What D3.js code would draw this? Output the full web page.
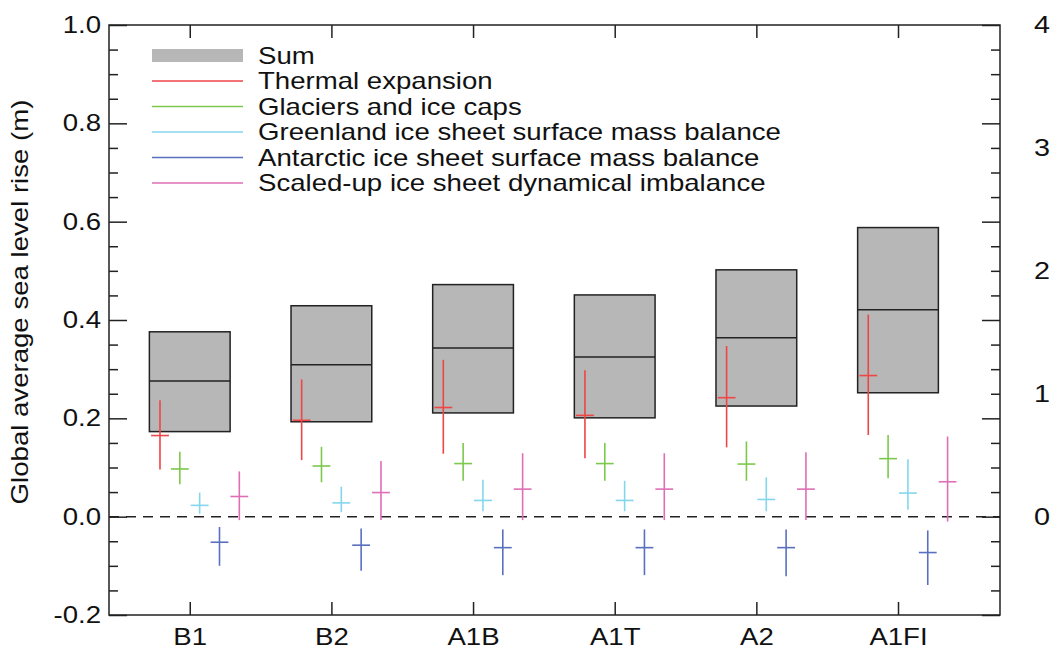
<!DOCTYPE html>
<html>
<head>
<meta charset="utf-8">
<script src="https://cdn.jsdelivr.net/npm/d3@7"></script>
<style>
  body { margin: 0; background: #fff; }
  text { font-family: "Liberation Sans", Arial, Helvetica, sans-serif; fill: #111; }
</style>
</head>
<body>
<div id="chart"></div>
<script>
// scenarios along the x axis
var scenarios = ["B1", "B2", "A1B", "A1T", "A2", "A1FI"];

// Sum (grey boxes): 5% .. 95% range and the middle line
var sumLow  = [0.173, 0.193, 0.211, 0.201, 0.225, 0.252];
var sumMid  = [0.276, 0.309, 0.343, 0.325, 0.364, 0.421];
var sumHigh = [0.376, 0.429, 0.472, 0.451, 0.502, 0.588];

// components: low / mid / high
var thermalLow  = [0.096, 0.115, 0.128, 0.119, 0.141, 0.166];
var thermalMid  = [0.165, 0.196, 0.222, 0.206, 0.242, 0.287];
var thermalHigh = [0.237, 0.279, 0.319, 0.298, 0.347, 0.411];

var glacierLow  = [0.066, 0.070, 0.073, 0.073, 0.073, 0.078];
var glacierMid  = [0.097, 0.103, 0.108, 0.108, 0.107, 0.118];
var glacierHigh = [0.132, 0.142, 0.150, 0.150, 0.153, 0.166];

var greenlandLow  = [0.006, 0.009, 0.011, 0.011, 0.011, 0.014];
var greenlandMid  = [0.023, 0.028, 0.033, 0.033, 0.035, 0.048];
var greenlandHigh = [0.049, 0.061, 0.075, 0.073, 0.080, 0.117];

var antarcticLow  = [-0.100, -0.110, -0.119, -0.119, -0.121, -0.139];
var antarcticMid  = [-0.052, -0.058, -0.063, -0.063, -0.063, -0.073];
var antarcticHigh = [-0.021, -0.024, -0.026, -0.026, -0.026, -0.028];

var dynamicLow  = [-0.007, -0.007, -0.007, -0.007, -0.007, -0.010];
var dynamicMid  = [0.041, 0.049, 0.056, 0.056, 0.056, 0.071];
var dynamicHigh = [0.092, 0.113, 0.129, 0.129, 0.131, 0.163];

var legendLabels = ["Sum", "Thermal expansion", "Glaciers and ice caps",
  "Greenland ice sheet surface mass balance", "Antarctic ice sheet surface mass balance",
  "Scaled-up ice sheet dynamical imbalance"];

var yTicks = [-0.2, 0.0, 0.2, 0.4, 0.6, 0.8, 1.0];
var rightTicks = [0, 1, 2, 3, 4];

var svgWidth = 1053;
var svgHeight = 650;
// plot frame (window.top is reserved, so no plain "top")
var frameL = 109, frameR = 1000, frameT = 25, frameB = 615;
var stretch = 1.2; // text in the reference is a bit wide

var components = [
  {color: "#ee4646", lo: thermalLow, mid: thermalMid, hi: thermalHigh, off: -0.21},
  {color: "#7cc84c", lo: glacierLow, mid: glacierMid, hi: glacierHigh, off: -0.07},
  {color: "#84d6ec", lo: greenlandLow, mid: greenlandMid, hi: greenlandHigh, off: 0.07},
  {color: "#5a70bf", lo: antarcticLow, mid: antarcticMid, hi: antarcticHigh, off: 0.21},
  {color: "#de6fb6", lo: dynamicLow, mid: dynamicMid, hi: dynamicHigh, off: 0.35}
];

var svg = d3.select("#chart")
  .append("svg")
  .attr("width", svgWidth)
  .attr("height", svgHeight);

var x = d3.scaleLinear().domain([0.43, 6.72]).range([frameL, frameR]);
var y = d3.scaleLinear().domain([-0.2, 1.0]).range([frameB, frameT]);
var yRight = d3.scaleLinear().domain([-0.8, 4]).range([frameB, frameT]);

// zero line
svg.append("line")
  .attr("x1", frameL).attr("x2", frameR)
  .attr("y1", y(0)).attr("y2", y(0))
  .attr("stroke", "#222")
  .attr("stroke-width", 1.5)
  .attr("stroke-dasharray", "10,7");

// grey Sum boxes
var boxes = svg.append("g");
scenarios.forEach(function(s, i) {
  var cx = i + 1;
  boxes.append("rect")
    .attr("x", x(cx - 0.285))
    .attr("y", y(sumHigh[i]))
    .attr("width", x(cx + 0.285) - x(cx - 0.285))
    .attr("height", y(sumLow[i]) - y(sumHigh[i]))
    .attr("fill", "#b7b7b7")
    .attr("stroke", "#222")
    .attr("stroke-width", 1.5);
  boxes.append("line")
    .attr("x1", x(cx - 0.285)).attr("x2", x(cx + 0.285))
    .attr("y1", y(sumMid[i])).attr("y2", y(sumMid[i]))
    .attr("stroke", "#222")
    .attr("stroke-width", 1.5);
});

// crosses for each component
components.forEach(function(c) {
  var g = svg.append("g").attr("stroke", c.color).attr("stroke-width", 1.6);
  scenarios.forEach(function(s, i) {
    var cx = i + 1 + c.off;
    g.append("line")
      .attr("x1", x(cx)).attr("x2", x(cx))
      .attr("y1", y(c.hi[i])).attr("y2", y(c.lo[i]));
    g.append("line")
      .attr("x1", x(cx - 0.063)).attr("x2", x(cx + 0.063))
      .attr("y1", y(c.mid[i])).attr("y2", y(c.mid[i]));
  });
});

// axes with inward ticks
var minor = d3.range(-0.2, 1.0001, 0.05).filter(function(v) {
  return Math.abs(Math.round(v * 5) - v * 5) > 0.01;
});

function styleAxis(g) {
  g.select(".domain").remove();
  g.selectAll("line").attr("stroke", "#222").attr("stroke-width", 1.5);
}

// plain hyphen for negatives, like the reference
var fmt = function(d) { return d3.format(".1f")(d).replace("\u2212", "-"); };

svg.append("g").attr("transform", `translate(${frameL},0)`)
  .call(d3.axisLeft(y).tickValues(yTicks).tickSize(-18).tickPadding(0).tickFormat(fmt))
  .call(styleAxis)
  .call(function(g) {
    g.selectAll("text")
      .attr("x", 0)
      .attr("transform", `translate(-8,0) scale(${stretch},1)`)
      .attr("font-size", 23)
      .attr("fill", "#111");
  });
svg.append("g").attr("transform", `translate(${frameL},0)`)
  .call(d3.axisLeft(y).tickValues(minor).tickSize(-9).tickFormat(""))
  .call(styleAxis);

svg.append("g").attr("transform", `translate(${frameR},0)`)
  .call(d3.axisRight(y).tickValues(yTicks).tickSize(-18).tickFormat(""))
  .call(styleAxis);
svg.append("g").attr("transform", `translate(${frameR},0)`)
  .call(d3.axisRight(y).tickValues(minor).tickSize(-9).tickFormat(""))
  .call(styleAxis);

// right side labels
svg.append("g").attr("transform", `translate(${frameR},0)`)
  .call(d3.axisRight(yRight).tickValues(rightTicks).tickSize(0).tickFormat(d3.format("d")))
  .call(function(g) {
    g.select(".domain").remove();
    g.selectAll("text")
      .attr("x", 0)
      .attr("text-anchor", "middle")
      .attr("transform", `translate(42,0) scale(${stretch},1)`)
      .attr("font-size", 24)
      .attr("fill", "#000");
  });

var xTicks = scenarios.map(function(s, i) { return i + 1; });

svg.append("g").attr("transform", `translate(0,${frameB})`)
  .call(d3.axisBottom(x).tickValues(xTicks).tickSize(-13).tickFormat(function(d) { return scenarios[d - 1]; }))
  .call(styleAxis)
  .call(function(g) {
    g.selectAll("text")
      .attr("y", 0)
      .attr("dy", 0)
      .attr("transform", `translate(0,30) scale(${stretch},1)`)
      .attr("font-size", 23)
      .attr("fill", "#111");
  });
svg.append("g").attr("transform", `translate(0,${frameT})`)
  .call(d3.axisTop(x).tickValues(xTicks).tickSize(-13).tickFormat(""))
  .call(styleAxis);

// frame
svg.append("rect")
  .attr("x", frameL).attr("y", frameT)
  .attr("width", frameR - frameL).attr("height", frameB - frameT)
  .attr("fill", "none")
  .attr("stroke", "#222")
  .attr("stroke-width", 1.5);

// y axis title
svg.append("text")
  .attr("transform", "translate(28,302) rotate(-90) scale(1.2,1.05)")
  .attr("text-anchor", "middle")
  .attr("font-size", 23)
  .text("Global average sea level rise (m)");

// legend
var rowY = [55.5, 81, 106.5, 132, 157.5, 183];
var legend = svg.append("g");
legend.append("rect")
  .attr("x", 152).attr("y", rowY[0] - 6.5)
  .attr("width", 91).attr("height", 13)
  .attr("fill", "#b7b7b7");
components.forEach(function(c, k) {
  legend.append("line")
    .attr("x1", 152).attr("x2", 243)
    .attr("y1", rowY[k + 1]).attr("y2", rowY[k + 1])
    .attr("stroke", c.color)
    .attr("stroke-width", 1.4);
});
legendLabels.forEach(function(t, k) {
  legend.append("text")
    .attr("transform", `translate(258,${rowY[k] + 8}) scale(${stretch},1)`)
    .attr("font-size", 23)
    .text(t);
});
</script>
</body>
</html>
